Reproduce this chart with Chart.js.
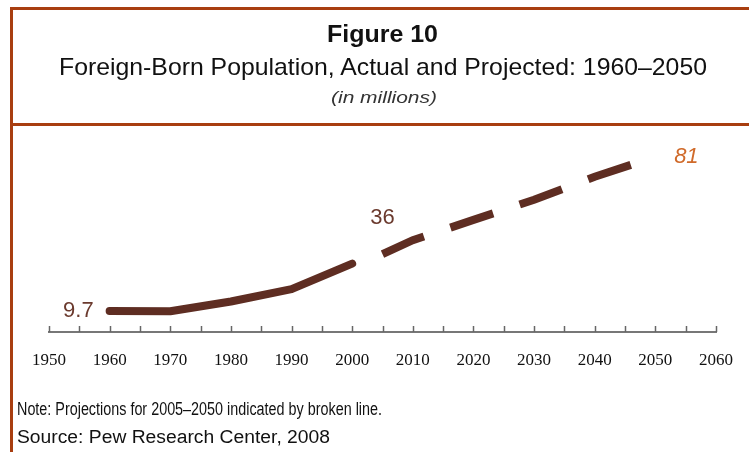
<!DOCTYPE html>
<html>
<head>
<meta charset="utf-8">
<script src="https://cdn.jsdelivr.net/npm/chart.js@4"></script>
<style>
  html, body { margin: 0; padding: 0; background: #fff; }
  #wrap { position: relative; width: 749px; height: 452px; overflow: hidden; }
  #chart { position: absolute; left: 0; top: 0; }
  .rule { position: absolute; background: #a83e10; }
  .txt { position: absolute; white-space: nowrap; line-height: 1; transform-origin: 0 50%;
         font-family: "Liberation Sans", Arial, sans-serif; color: #111; }
</style>
</head>
<body>
<div id="wrap">
  <canvas id="chart" width="749" height="452"></canvas>
  <div class="rule" style="left:10px; top:7px; width:739px; height:3px"></div>
  <div class="rule" style="left:10px; top:123px; width:739px; height:3px"></div>
  <div class="rule" style="left:10px; top:7px; width:3px; height:445px"></div>
  <span class="txt" id="t1" style="left:327px; top:22px; font-size:24px; font-weight:bold">Figure 10</span>
  <span class="txt" id="t2" style="left:59px; top:55px; font-size:24px">Foreign-Born Population, Actual and Projected: 1960–2050</span>
  <span class="txt" id="t3" style="left:331px; top:90px; font-size:16px; font-style:italic; color:#333">(in millions)</span>
  <span class="txt" id="n1" style="left:17px; top:400px; font-size:18px">Note: Projections for 2005–2050 indicated by broken line.</span>
  <span class="txt" id="n2" style="left:17px; top:428px; font-size:18px">Source: Pew Research Center, 2008</span>
</div>
<script>
// data (millions)
const actualYears = [1960, 1970, 1980, 1990, 2000];
const actualValues = [9.7, 9.6, 14.1, 19.8, 31.6];
const projYears = [2005, 2010, 2020, 2030, 2040, 2050];
const projValues = [36, 42.4, 51.8, 61.1, 71.7, 81];
const tickYears = [1950, 1960, 1970, 1980, 1990, 2000, 2010, 2020, 2030, 2040, 2050, 2060];

const lineColor = '#5e2d22';

// squeeze the text to the widths in the original
function fitWidth(id, w) {
    const el = document.getElementById(id);
    el.style.transform = 'scaleX(' + (w / el.getBoundingClientRect().width) + ')';
}
fitWidth('t1', 111);
fitWidth('t2', 648);
fitWidth('t3', 106);
fitWidth('n1', 365);
fitWidth('n2', 313);

// small upward ticks every 5 years + the value labels
const extras = {
    id: 'extras',
    afterDraw(chart) {
        const ctx = chart.ctx;
        const xs = chart.scales.x, ys = chart.scales.y;
        const base = chart.chartArea.bottom;
        ctx.save();
        ctx.strokeStyle = '#666';
        ctx.lineWidth = 1.5;
        for (let yr = tickYears[0]; yr <= tickYears[tickYears.length - 1]; yr += 5) {
            const px = Math.round(xs.getPixelForValue(yr)) + 0.5;
            ctx.beginPath();
            ctx.moveTo(px, base);
            ctx.lineTo(px, base - 6);
            ctx.stroke();
        }
        ctx.font = '22px "Liberation Sans", Arial, sans-serif';
        ctx.textBaseline = 'middle';
        ctx.fillStyle = '#6b3a2e';
        ctx.textAlign = 'right';
        ctx.fillText(String(actualValues[0]), xs.getPixelForValue(actualYears[0]) - 16, ys.getPixelForValue(actualValues[0]));
        ctx.textAlign = 'center';
        ctx.fillText(String(projValues[0]), xs.getPixelForValue(projYears[0]), ys.getPixelForValue(projValues[0]) - 36);
        ctx.font = 'italic 22px "Liberation Sans", Arial, sans-serif';
        ctx.fillStyle = '#d06a2a';
        const last = projValues.length - 1;
        ctx.fillText(String(projValues[last]), xs.getPixelForValue(projYears[last]) + 31, ys.getPixelForValue(projValues[last]));
        ctx.restore();
    }
};

new Chart(document.getElementById('chart'), {
    type: 'line',
    data: {
        datasets: [{
            label: 'Actual',
            data: actualYears.map((yr, i) => ({ x: yr, y: actualValues[i] })),
            borderColor: lineColor,
            borderWidth: 8,
            borderCapStyle: 'round',
            borderJoinStyle: 'round',
            pointRadius: 0,
            tension: 0
        }, {
            label: 'Projected',
            data: projYears.map((yr, i) => ({ x: yr, y: projValues[i] })),
            borderColor: lineColor,
            borderWidth: 8,
            borderDash: [45, 28],
            borderCapStyle: 'butt',
            pointRadius: 0,
            tension: 0
        }]
    },
    options: {
        responsive: false,
        animation: false,
        layout: { padding: { left: 49, right: 33, top: 140, bottom: 80 } },
        plugins: { legend: { display: false }, tooltip: { enabled: false } },
        scales: {
            x: {
                type: 'linear',
                min: 1950,
                max: 2060,
                afterBuildTicks: s => { s.ticks = tickYears.map(v => ({ value: v })); },
                afterFit: s => { s.height = 40; s.paddingLeft = 0; s.paddingRight = 0; },
                grid: { display: false, drawTicks: false },
                border: { display: true, color: '#777', width: 2 },
                ticks: {
                    callback: v => String(v),
                    color: '#111',
                    padding: 18,
                    maxRotation: 0,
                    font: { family: '"Liberation Serif", serif', size: 17 }
                }
            },
            y: { display: false, min: 0, max: 88.7 }
        }
    },
    plugins: [extras]
});
</script>
</body>
</html>
